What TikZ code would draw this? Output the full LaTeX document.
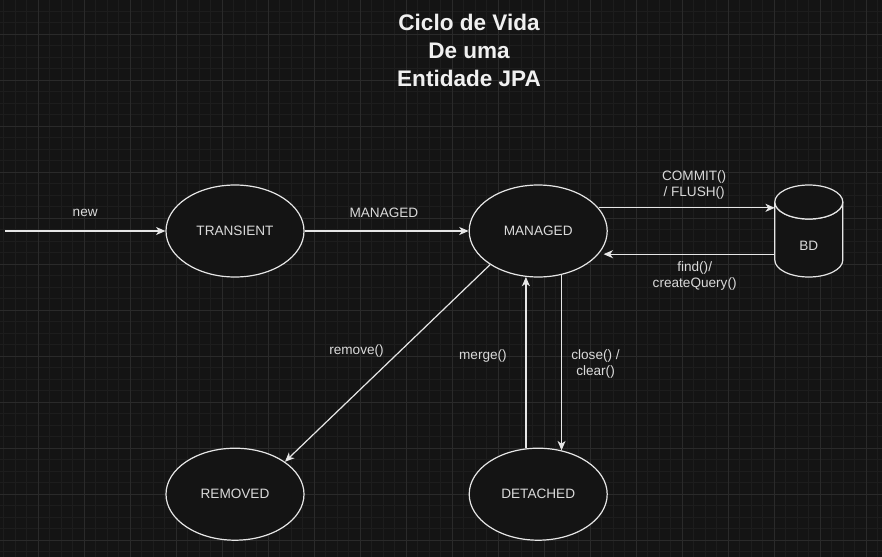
\documentclass[tikz,border=0pt]{standalone}
\usepackage{fontspec}
\setmainfont{Liberation Sans}
\usetikzlibrary{arrows.meta, positioning, shapes.geometric}

\definecolor{bgColor}{HTML}{141414}
\definecolor{minorGrid}{HTML}{1D1D1D}
\definecolor{majorGrid}{HTML}{2A2A2A}
\definecolor{lineColor}{HTML}{E6E6E6}
\definecolor{textColor}{HTML}{DADADA}
\definecolor{titleColor}{HTML}{F0F0F0}

\begin{document}
\begin{tikzpicture}[x=0.75pt, y=-0.75pt]
		\tikzstyle{StateName} = [ellipse, minimum width=103.5pt, minimum height=69pt, inner sep=0pt, draw=lineColor, line width=0.9pt, fill=bgColor, text=textColor, font=\fontsize{10.2}{12}\selectfont]
		\tikzstyle{DbName} = [rectangle, minimum width=51pt, minimum height=69pt, inner sep=0pt, outer sep=0pt]
		\tikzstyle{DbLine} = [draw=lineColor, line width=0.9pt, fill=bgColor]
		\tikzstyle{EdgeLabel} = [text=textColor, font=\fontsize{10.2}{12}\selectfont, align=center, inner sep=0pt]
		\tikzstyle{arrow} = [draw=lineColor, line width=0.9pt, -{Stealth[length=7pt, width=6pt, inset=2pt]}]

		% background and grid
		\useasboundingbox (0,0) rectangle (882,557);
		\fill[bgColor] (0,0) rectangle (882,557);
		\foreach \i in {0,...,76} \draw[minorGrid, line width=0.75pt] (3.83+\i*11.5,0) -- (3.83+\i*11.5,557);
		\foreach \j in {0,...,47} \draw[minorGrid, line width=0.75pt] (0,11.33+\j*11.5) -- (882,11.33+\j*11.5);
		\foreach \i in {0,...,18} \draw[majorGrid, line width=0.75pt] (38.33+\i*46,0) -- (38.33+\i*46,557);
		\foreach \j in {0,...,11} \draw[majorGrid, line width=0.75pt] (0,34.33+\j*46) -- (882,34.33+\j*46);

		\node (titleText) [text=titleColor, align=center, font=\bfseries\fontsize{16.9}{21}\selectfont] at (469,50) {Ciclo de Vida\\De uma\\Entidade JPA};

		\coordinate (newStart) at (5,231);
		\node (transientState) [StateName] at (235,231) {TRANSIENT};
		\node (managedState) [StateName, right=123pt of transientState] {MANAGED};
		\node (removedState) [StateName, below=127.5pt of transientState] {REMOVED};
		\node (detachedState) [StateName, below=127.5pt of managedState] {DETACHED};

		% database cylinder
		\node (bdCyl) [DbName, right=125.25pt of managedState] {};
		\draw[DbLine] ([yshift=-12.75pt]bdCyl.north west) arc (180:360:25.5pt and 12.75pt) -- ([yshift=12.75pt]bdCyl.south east) arc (0:-180:25.5pt and 12.75pt) -- cycle;
		\draw[DbLine] ([yshift=-12.75pt]bdCyl.north) ellipse (25.5pt and 12.75pt);
		\node (bdLabel) [EdgeLabel] at ([yshift=-11pt]bdCyl.center) {BD};

		\draw[arrow] (newStart) -- node[EdgeLabel, midway, yshift=13.5pt] {new} (transientState);
		\draw[arrow] (transientState) -- node[EdgeLabel, midway, xshift=-2pt, yshift=13.5pt] {MANAGED} (managedState);
		\draw[arrow] (managedState.21) -- node[EdgeLabel, midway, xshift=5.6pt, yshift=17.25pt] {COMMIT()\\/ FLUSH()} (managedState.21 -| bdCyl.west);
		\draw[arrow] (managedState.-21 -| bdCyl.west) -- node[EdgeLabel, midway, xshift=4.1pt, yshift=-16.5pt] {find()/\\createQuery()} ([xshift=3.75pt]managedState.-21);
		\draw[arrow] (managedState.215) -- node[EdgeLabel, midway, xshift=-23.25pt, yshift=9.4pt] {remove()} (removedState.33);
		\draw[arrow] (detachedState.105) -- node[EdgeLabel, midway, xshift=-32.25pt, yshift=4.9pt] {merge()} (managedState.255);
		\draw[arrow] (managedState.298) -- node[EdgeLabel, midway, xshift=25.5pt, yshift=-0.75pt] {close() /\\clear()} (detachedState.62);
\end{tikzpicture}
\end{document}
